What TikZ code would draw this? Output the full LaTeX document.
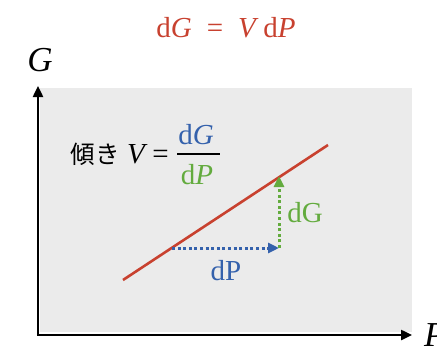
\documentclass[tikz,border=0pt]{standalone}
\usepackage{fontspec}
\setmainfont{Liberation Serif}
\newfontfamily\jpfont{Noto Sans CJK JP}
\usetikzlibrary{arrows.meta}

\definecolor{eqred}{HTML}{C8412F}
\definecolor{dpblue}{HTML}{3461AC}
\definecolor{dggreen}{HTML}{63AB3E}
\definecolor{panelgray}{HTML}{EBEBEB}

\tikzset{
    axis/.style={line width=2.4pt, -{Triangle[length=11pt,width=10pt]}},
    step arrow/.style={line width=3pt, dash pattern=on 3pt off 2.6pt, -{Triangle[length=11pt,width=10pt]}},
    big/.style={font=\fontsize{29}{32}\selectfont, inner sep=0pt},
}

\begin{document}
\begin{tikzpicture}[x=1pt,y=-1pt]
        \useasboundingbox (0,0) rectangle (437,348);
        \clip (0,0) rectangle (437,348);
        \fill [panelgray] (40,88) rectangle (412,332);

        % axes
        \coordinate (Origin) at (38,335);
        \coordinate (GTop) at (38,86);
        \coordinate (PEnd) at (412,335);
        \draw [axis] (Origin) -- (GTop);
        \draw [axis] ([xshift=-1.2pt]Origin) -- (PEnd);
        \node (GLabel)[big, font=\fontsize{35}{37}\selectfont] at (40,60) {\textit{G}};
        \node (PLabel)[big, font=\fontsize{35}{37}\selectfont, anchor=west] at (424,335) {\textit{P}};

        % equation
        \node (Eq)[big, text=eqred] at (226,28) {d\textit{G}\hspace{15pt}=\hspace{15pt}\textit{V}\,d\textit{P}};

        % slope label
        \node (Slope)[big, anchor=east] at (169,154) {{\jpfont\fontsize{24.5}{26}\selectfont 傾き} \textit{V}\,=};
        \node (Num)[big, text=dpblue] at (196,135) {d\textit{G}};
        \node (Den)[big, text=dggreen] at (197,175) {d\textit{P}};
        \draw [line width=1.6pt] ([xshift=-19pt]Num.south |- 0,154) coordinate (FracL) -- ++(43,0) coordinate (FracR);

        % line and steps
        \coordinate (LineStart) at (123,280);
        \coordinate (LineEnd) at (328,145);
        \draw [eqred, line width=2.6pt] (LineStart) -- (LineEnd);
        \coordinate (StepA) at (172,248);
        \coordinate (StepB) at (279,248);
        \coordinate (StepC) at (279,176);
        \draw [step arrow, dpblue] (StepA) -- (StepB);
        \draw [step arrow, dggreen] (StepB) -- (StepC);
        \node (DPLabel)[big, text=dpblue] at (226,271) {dP};
        \node (DGLabel)[big, text=dggreen] at (305,213) {dG};
    \end{tikzpicture}
\end{document}
